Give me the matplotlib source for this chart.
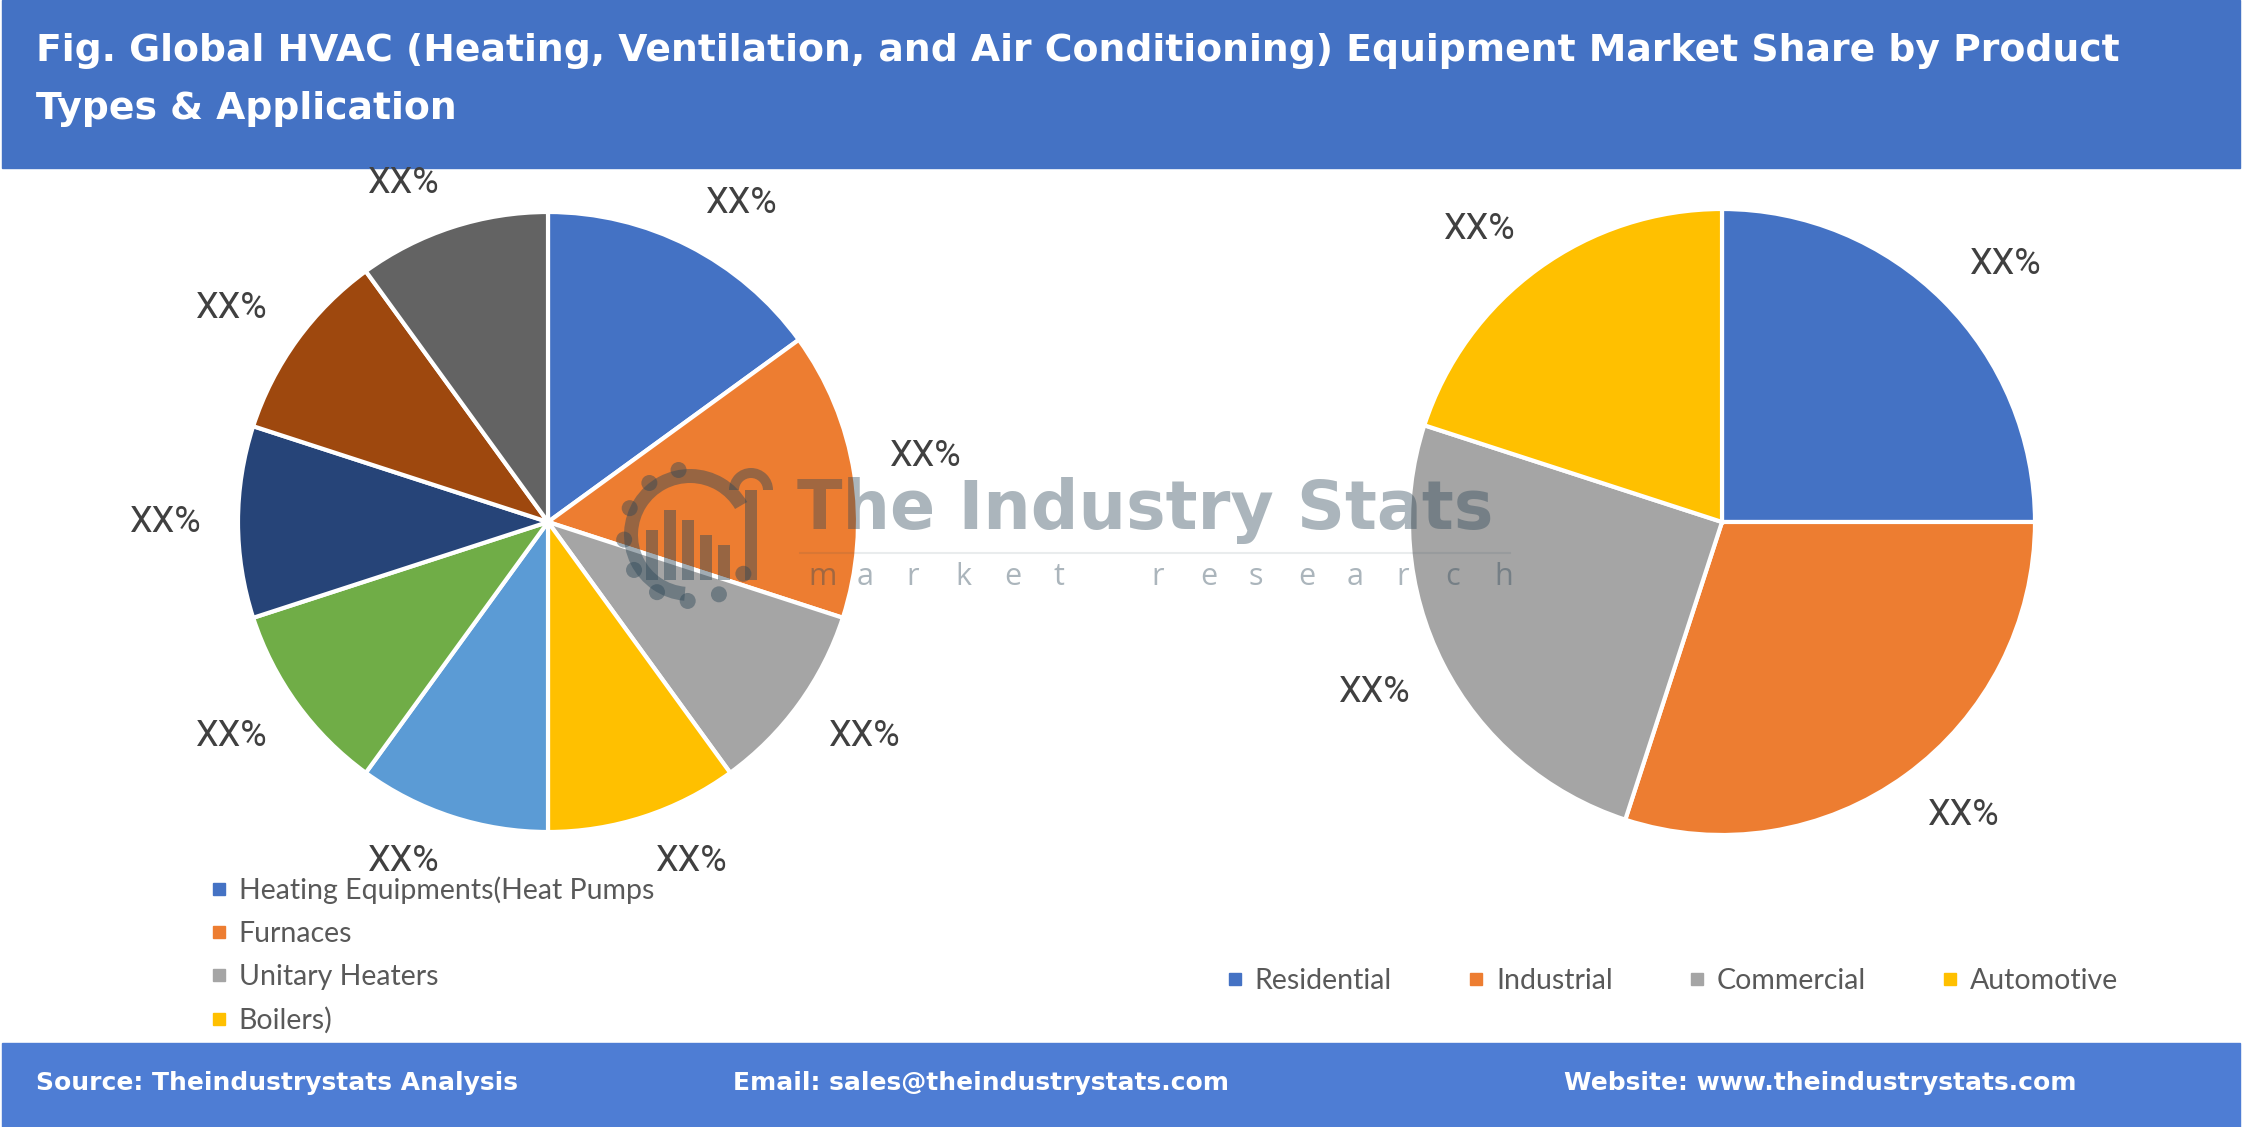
import math
import matplotlib.pyplot as plt
from matplotlib import font_manager
from matplotlib.patches import Rectangle, Wedge, Circle
from matplotlib.lines import Line2D

# data
product_types = ['Heating Equipments(Heat Pumps', 'Furnaces', 'Unitary Heaters', 'Boilers)',
                 'Type 5', 'Type 6', 'Type 7', 'Type 8', 'Type 9']
product_share = [15, 15, 10, 10, 10, 10, 10, 10, 10]
product_colors = ['#4472C4', '#ED7D31', '#A5A5A5', '#FFC000', '#5B9BD5',
                  '#70AD47', '#264478', '#9E480E', '#636363']
legend_count = 4  # only the first four names show in the legend

applications = ['Residential', 'Industrial', 'Commercial', 'Automotive']
application_share = [25, 30, 25, 20]
application_colors = ['#4472C4', '#ED7D31', '#A5A5A5', '#FFC000']

title = ('Fig. Global HVAC (Heating, Ventilation, and Air Conditioning) Equipment Market Share by Product\n'
         'Types & Application')

W, H = 2242, 1127
fig = plt.figure(figsize=(W / 100, H / 100), dpi=100)
fig.patch.set_facecolor('white')

# narrow font for the XX% labels if there is one
try:
    font_manager.findfont(font_manager.FontProperties(family='Liberation Sans Narrow'),
                          fallback_to_default=False)
    label_family, label_size = 'Liberation Sans Narrow', 27
except ValueError:
    label_family, label_size = 'Roboto', 26

# background axes in pixel coordinates for header / footer
bg = fig.add_axes([0, 0, 1, 1], zorder=-1)
bg.set_xlim(0, W)
bg.set_ylim(H, 0)
bg.axis('off')
bg.add_patch(Rectangle((2, 0), W - 4, 168, color='#4472C4'))
bg.add_patch(Rectangle((2, 1043), W - 4, 84, color='#4E7DD4'))
bg.text(36, 80, title, color='white', fontsize=27.2, fontweight='bold',
        family='DejaVu Sans', va='center', ha='left', linespacing=1.82)
foot_font = dict(color='white', fontsize=18, fontweight='bold', family='DejaVu Sans', va='center')
bg.text(36, 1083, 'Source: Theindustrystats Analysis', **foot_font)
bg.text(733, 1083, 'Email: sales@theindustrystats.com', **foot_font)
bg.text(1564, 1083, 'Website: www.theindustrystats.com', **foot_font)

label_font = dict(fontsize=label_size, color='#404040', family=label_family)


def pie_axes(cx, cy, r):
    return fig.add_axes([(cx - r) / W, (H - cy - r) / H, 2 * r / W, 2 * r / H])


def place_labels(wedges, texts, r_px):
    # outside-end labels: box corner sits just outside the slice edge
    half_w, half_h = 38 / r_px, 12 / r_px
    for w, t in zip(wedges, texts):
        th = math.radians((w.theta1 + w.theta2) / 2)
        c, s = math.cos(th), math.sin(th)
        x = 1.11 * c + (half_w if c > 0.02 else -half_w if c < -0.02 else 0)
        y = 1.11 * s + (half_h if s > 0.02 else -half_h if s < -0.02 else 0)
        t.set_position((x, y))
        t.set(**label_font)


# left pie: product types
ax1 = pie_axes(548, 522, 310)
w1, _, t1 = ax1.pie(product_share, colors=product_colors, startangle=90, counterclock=False,
                    autopct=lambda p: 'XX%', pctdistance=1.2,
                    wedgeprops=dict(edgecolor='white', linewidth=3))
place_labels(w1, t1, 310)
ax1.set_xlim(-1, 1)
ax1.set_ylim(-1, 1)

# right pie: application
ax2 = pie_axes(1722, 522, 313)
w2, _, t2 = ax2.pie(application_share, colors=application_colors, startangle=90, counterclock=False,
                    autopct=lambda p: 'XX%', pctdistance=1.2,
                    wedgeprops=dict(edgecolor='white', linewidth=3))
place_labels(w2, t2, 313)
ax2.set_xlim(-1, 1)
ax2.set_ylim(-1, 1)

# legends
leg_font = dict(family='Lato', size=20.5)
h1 = [Line2D([], [], marker='s', ls='', color=c, markersize=9) for c in product_colors[:legend_count]]
fig.legend(h1, product_types[:legend_count], loc='upper left', bbox_to_anchor=(196 / W, 1 - 862 / H),
           frameon=False, prop=leg_font, handlelength=0.6, handletextpad=0.4,
           labelspacing=0.6, labelcolor='#595959', borderpad=0)

h2 = [Line2D([], [], marker='s', ls='', color=c, markersize=9) for c in application_colors]
fig.legend(h2, applications, loc='center left', bbox_to_anchor=(1212 / W, 1 - 981 / H),
           frameon=False, prop=leg_font, ncol=4, handlelength=0.6, handletextpad=0.4,
           columnspacing=2.65, labelcolor='#595959', borderpad=0)

# watermark overlay
wm = fig.add_axes([0, 0, 1, 1], zorder=5)
wm.set_xlim(0, W)
wm.set_ylim(H, 0)
wm.axis('off')
wm_col = '#2F4858'
wm.add_patch(Wedge((690, 535), 66, 95, 330, width=14, color=wm_col, alpha=0.45, lw=0))
for ang in range(100, 330, 28):
    x = 690 + 66 * math.cos(math.radians(ang))
    y = 535 - 66 * math.sin(math.radians(ang))
    wm.add_patch(Circle((x, y), 8, color=wm_col, alpha=0.45, lw=0))
for bx, bh in [(646, 50), (664, 70), (682, 60), (700, 45), (718, 35)]:
    wm.add_patch(Rectangle((bx, 580 - bh), 12, bh, color=wm_col, alpha=0.45, lw=0))
wm.add_patch(Rectangle((745, 490), 12, 90, color=wm_col, alpha=0.45, lw=0))
wm.add_patch(Wedge((751, 490), 22, 180, 360, width=10, color=wm_col, alpha=0.45, lw=0))
wm.text(797, 510, 'The Industry Stats', color=wm_col, alpha=0.4, fontsize=48,
        fontweight='bold', family='DejaVu Sans', va='center', ha='left')
wm.plot([800, 1510], [553, 553], color=wm_col, alpha=0.1, lw=1.5)
for i, ch in enumerate('market research'):
    wm.text(808 + i * 49, 577, ch, color=wm_col, alpha=0.4, fontsize=22,
            family='Open Sans', va='center', ha='left')

fig.savefig('out.png', dpi=100, facecolor='white')
